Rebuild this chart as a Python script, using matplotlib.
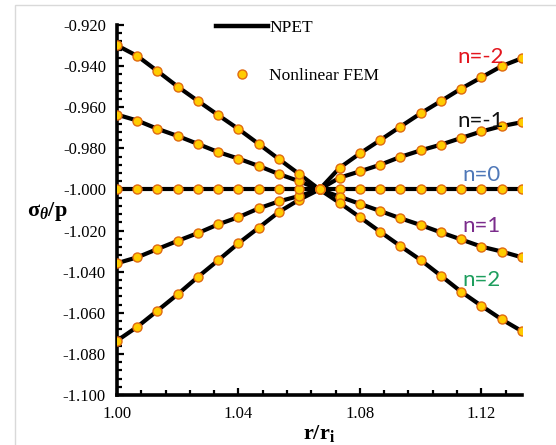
import matplotlib
matplotlib.use('Agg')
import matplotlib.pyplot as plt
import matplotlib.lines as mlines
from matplotlib.patches import Rectangle
from matplotlib.ticker import MultipleLocator, FormatStrFormatter

plt.rcParams['font.family'] = 'Liberation Serif'
plt.rcParams['mathtext.fontset'] = 'custom'
plt.rcParams['mathtext.rm'] = 'Liberation Serif:bold'
plt.rcParams['mathtext.it'] = 'Liberation Serif:bold:italic'
plt.rcParams['mathtext.bf'] = 'Liberation Serif:bold'

# radial position r/ri
r_ratio = [1.000, 1.0067, 1.0133, 1.020, 1.0267, 1.0333, 1.040, 1.0467, 1.0533, 1.060,
           1.0667, 1.0733, 1.080, 1.0867, 1.0933, 1.100, 1.1067, 1.1133, 1.120, 1.1267, 1.1333]

# hoop stress ratio for each grading index n
s_nm2 = [-1.0736, -1.0668, -1.0590, -1.0510, -1.0425, -1.0345, -1.0262, -1.0186, -1.0110, -1.0050,
         -1.0000, -0.9895, -0.9825, -0.9760, -0.9695, -0.9630, -0.9570, -0.9510, -0.9455, -0.9400, -0.9362]
s_nm1 = [-1.0359, -1.0330, -1.0290, -1.0250, -1.0212, -1.0170, -1.0135, -1.0092, -1.0058, -1.0032,
         -1.0000, -0.9943, -0.9912, -0.9880, -0.9842, -0.9810, -0.9782, -0.9750, -0.9718, -0.9692, -0.9673]
s_n0 = [-1.0000, -1.0000, -1.0000, -1.0000, -1.0000, -1.0000, -1.0000, -1.0000, -1.0000, -1.0000,
        -1.0000, -1.0000, -1.0000, -1.0000, -1.0000, -1.0000, -1.0000, -1.0000, -1.0000, -1.0000, -1.0000]
s_n1 = [-0.9636, -0.9665, -0.9705, -0.9740, -0.9779, -0.9818, -0.9850, -0.9886, -0.9925, -0.9960,
        -1.0000, -1.0035, -1.0070, -1.0105, -1.0140, -1.0173, -1.0209, -1.0243, -1.0278, -1.0302, -1.0330]
s_n2 = [-0.9299, -0.9351, -0.9424, -0.9500, -0.9570, -0.9638, -0.9706, -0.9779, -0.9852, -0.9925,
        -1.0000, -1.0065, -1.0135, -1.0206, -1.0275, -1.0343, -1.0420, -1.0497, -1.0566, -1.0632, -1.0689]

series = [s_nm2, s_nm1, s_n0, s_n1, s_n2]
n_labels = ['n=-2', 'n=-1', 'n=0', 'n=1', 'n=2']
n_colors = ['#E3161E', '#111111', '#4F78B8', '#7B2C8C', '#1E9E5E']
n_label_y = [-0.9356, -0.9667, -0.9930, -1.0178, -1.0440]

fig = plt.figure(figsize=(5.56, 4.45), dpi=100)

# light frame around the chart area
fig.patches.append(Rectangle((15 / 556, -0.1), 1.2, (440 / 445) + 0.1, transform=fig.transFigure,
                             fill=False, edgecolor='#D9D9D9', linewidth=1.0))

ax = fig.add_axes([117 / 556, 50 / 445, 404.7 / 556, 370 / 445])

for s in series:
    ax.plot(r_ratio, s, '-', color='k', linewidth=3.0, zorder=2)
for s in series:
    ax.plot(r_ratio, s, 'o', ms=6.5, markerfacecolor='#FFCC00', markeredgecolor='#E06A10',
            markeredgewidth=1.0, linestyle='none', zorder=3)

for lab, col, yy in zip(n_labels, n_colors, n_label_y):
    ax.text(1.1199, yy, lab, color=col, fontsize=16, family='Lato', ha='center', va='center', zorder=4)

ax.set_xlim(1.0, 1.1333)
ax.set_ylim(-1.10, -0.92)

ax.xaxis.set_major_locator(MultipleLocator(0.04))
ax.xaxis.set_minor_locator(MultipleLocator(0.008))
ax.yaxis.set_major_locator(MultipleLocator(0.02))
ax.yaxis.set_minor_locator(MultipleLocator(0.004))
ax.xaxis.set_major_formatter(FormatStrFormatter('%.2f'))
ax.yaxis.set_major_formatter(FormatStrFormatter('%.3f'))

for side in ['top', 'right']:
    ax.spines[side].set_visible(False)
for side in ['left', 'bottom']:
    ax.spines[side].set_linewidth(2.6)

ax.tick_params(which='major', direction='in', length=5, width=1.6, labelsize=12, pad=8)
ax.tick_params(which='minor', direction='in', length=3.5, width=1.6)

ax.set_xlabel(r'$\mathrm{r/r}_\mathrm{i}$', fontsize=16)
ax.set_ylabel(r'$\mathrm{\sigma}_{\theta}\mathrm{/p}$', fontsize=16, rotation=0)
ax.yaxis.label.set_ha('center')
ax.yaxis.label.set_va('center')
ax.xaxis.label.set_va('center')
ax.yaxis.set_label_coords(-0.173, 0.495)
ax.xaxis.set_label_coords(0.5, -0.103)

line_handle = mlines.Line2D([], [], color='k', linewidth=3.2)
dot_handle = mlines.Line2D([], [], marker='o', ms=6.5, markerfacecolor='#FFCC00', markeredgecolor='#E06A10',
                           linestyle='none')
ax.legend([line_handle, dot_handle], ['NPET', 'Nonlinear FEM'], loc='upper left',
          bbox_to_anchor=(0.205, 1.055), frameon=False, fontsize=12.5, handlelength=3.0,
          handletextpad=0.1, labelspacing=1.8)

fig.savefig('out.png', dpi=100)
